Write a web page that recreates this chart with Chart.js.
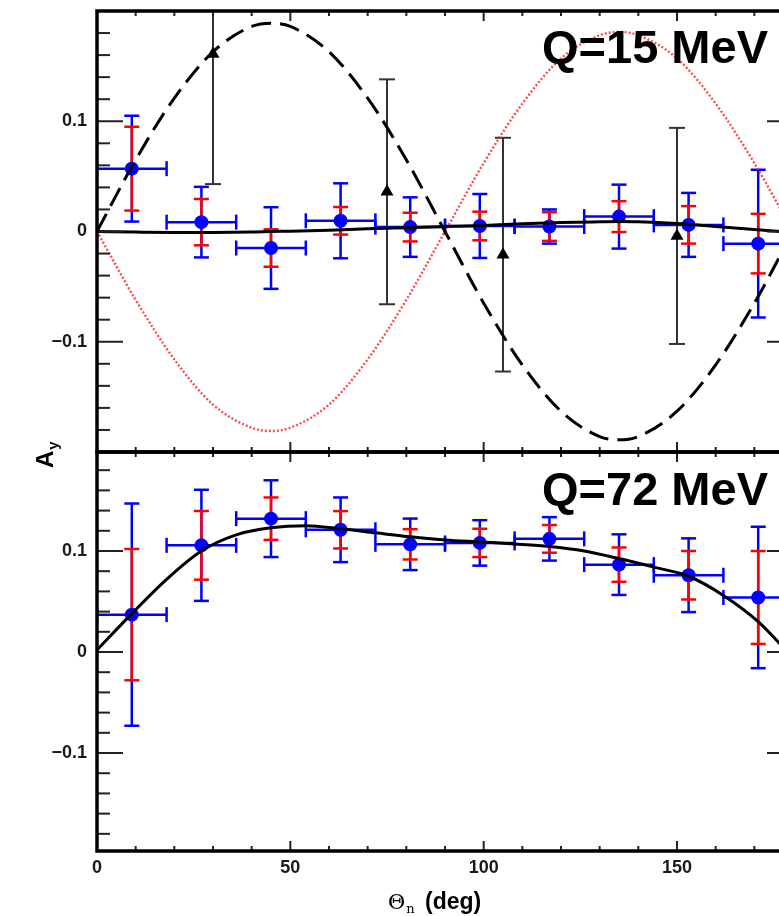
<!DOCTYPE html>
<html>
<head>
<meta charset="utf-8">
<title>Analyzing power A_y vs neutron angle</title>
<script src="https://cdn.jsdelivr.net/npm/chart.js@4.4.0/dist/chart.umd.min.js"></script>
<style>
  html, body { margin: 0; padding: 0; background: #fff; width: 779px; height: 916px; overflow: hidden; }
  canvas { position: absolute; left: 0; }
  #top-chart { top: 0; }
  #bottom-chart { top: 420px; }
</style>
</head>
<body>
<canvas id="bottom-chart" width="820" height="496"></canvas>
<canvas id="top-chart" width="820" height="460"></canvas>
<script>
// Angle bins (deg) and their half widths
const thetaBins = [9, 27, 45, 63, 81, 99, 117, 135, 153, 171];
const thetaHalfWidth = [9, 9, 9, 9, 9, 9, 9, 9, 9, 9];

// Q = 15 MeV data
const q15Ay    = [0.057, 0.0085, -0.015, 0.0097, 0.004, 0.005, 0.0045, 0.0135, 0.006, -0.011];
const q15Stat  = [0.038, 0.021, 0.017, 0.0125, 0.013, 0.013, 0.013, 0.014, 0.017, 0.027];
const q15Total = [0.048, 0.032, 0.037, 0.034, 0.027, 0.029, 0.0155, 0.029, 0.029, 0.067];

// Q = 15 MeV older measurement (triangles)
const q15OldTheta = [30, 75, 105, 150];
const q15OldAy    = [0.161, 0.036, -0.021, -0.004];
const q15OldErr   = [0.118, 0.102, 0.106, 0.098];

// Q = 15 MeV calculations
const q15CurveTheta = [0, 10, 20, 30, 40, 45, 50, 60, 70, 80, 90, 100, 110, 120, 130, 135, 140, 150, 160, 170, 180];
const q15Solid  = [0, -0.0005, -0.0008, -0.0008, -0.0005, 0, 0.0003, 0.0012, 0.0025, 0.0035, 0.0045, 0.0055, 0.007, 0.0082, 0.0088, 0.009, 0.0088, 0.0072, 0.0045, 0.0018, -0.001];
const q15Dashed = [0, 0.065, 0.121, 0.163, 0.186, 0.189, 0.186, 0.163, 0.121, 0.065, 0, -0.065, -0.121, -0.163, -0.186, -0.189, -0.186, -0.163, -0.121, -0.065, 0];
const q15Dotted = [0, -0.062, -0.116, -0.157, -0.178, -0.181, -0.178, -0.157, -0.116, -0.062, 0, 0.062, 0.116, 0.157, 0.178, 0.181, 0.178, 0.157, 0.116, 0.062, 0];

// Q = 72 MeV data
const q72Ay    = [0.037, 0.1056, 0.132, 0.121, 0.1066, 0.108, 0.112, 0.0865, 0.076, 0.054];
const q72Stat  = [0.065, 0.034, 0.021, 0.0185, 0.015, 0.014, 0.0137, 0.017, 0.024, 0.046];
const q72Total = [0.11, 0.055, 0.038, 0.032, 0.0255, 0.0225, 0.0215, 0.030, 0.0365, 0.070];

// Q = 72 MeV calculation
const q72CurveTheta = [0, 9, 18, 27, 36, 45, 54, 63, 72, 81, 90, 99, 108, 117, 126, 135, 144, 153, 162, 171, 180];
const q72Solid = [0.002, 0.038, 0.072, 0.100, 0.116, 0.123, 0.125, 0.122, 0.118, 0.114, 0.111, 0.109, 0.107, 0.1045, 0.100, 0.0925, 0.084, 0.075, 0.056, 0.030, -0.006];

// Tick labels
const yTickLabels = [-0.1, 0, 0.1];
const xTickLabels = [0, 50, 100, 150];

const BLUE = '#0000ff';
const RED = '#ff0000';

function pts(xs, ys) {
    return xs.map((x, i) => ({ x: x, y: ys[i] }));
}

function line(ctx, x1, y1, x2, y2) {
    ctx.beginPath();
    ctx.moveTo(x1, y1);
    ctx.lineTo(x2, y2);
    ctx.stroke();
}

// vertical (and optional horizontal) error bars through the chart scales
function drawErrorBars(chart, xs, ys, errs, xerrs, color, width, cap) {
    const ctx = chart.ctx;
    const sx = chart.scales.x, sy = chart.scales.y;
    const a = chart.chartArea;
    ctx.save();
    ctx.beginPath();
    ctx.rect(a.left, a.top, a.right - a.left, a.bottom - a.top);
    ctx.clip();
    ctx.strokeStyle = color;
    ctx.lineWidth = width;
    xs.forEach((x, i) => {
        const px = sx.getPixelForValue(x);
        const py = sy.getPixelForValue(ys[i]);
        const top = sy.getPixelForValue(ys[i] + errs[i]);
        const bot = sy.getPixelForValue(ys[i] - errs[i]);
        line(ctx, px, top, px, bot);
        line(ctx, px - cap, top, px + cap, top);
        line(ctx, px - cap, bot, px + cap, bot);
        if (xerrs) {
            const l = sx.getPixelForValue(x - xerrs[i]);
            const r = sx.getPixelForValue(x + xerrs[i]);
            line(ctx, l, py, r, py);
            line(ctx, l, py - cap, l, py + cap);
            line(ctx, r, py - cap, r, py + cap);
        }
    });
    ctx.restore();
}

// ROOT-style frame with inward ticks
const framePlugin = {
    id: 'frame',
    afterDatasetsDraw(chart) {
        const ctx = chart.ctx;
        const a = chart.chartArea;
        const sx = chart.scales.x, sy = chart.scales.y;
        ctx.save();
        ctx.strokeStyle = '#222';
        ctx.lineWidth = 2;
        for (let k = Math.ceil(sy.min / 0.02 - 1e-6); k * 0.02 <= sy.max + 1e-9; k++) {
            const py = sy.getPixelForValue(k * 0.02);
            const len = k % 5 === 0 ? 26 : 13;
            line(ctx, a.left, py, a.left + len, py);
            line(ctx, a.right, py, a.right - len, py);
        }
        for (let v = 10; v < 180; v += 10) {
            const px = sx.getPixelForValue(v);
            const len = v % 50 === 0 ? 10 : 5;
            line(ctx, px, a.top, px, a.top + len);
            line(ctx, px, a.bottom, px, a.bottom - len);
        }
        ctx.strokeStyle = '#000';
        ctx.lineWidth = 3.5;
        ctx.strokeRect(a.left, a.top, a.right - a.left, a.bottom - a.top);
        ctx.restore();
    }
};

function yAxis(min, max) {
    return {
        type: 'linear',
        min: min,
        max: max,
        afterFit: (scale) => {
            scale.width = 97;
            scale.paddingTop = 0;
            scale.paddingBottom = 0;
        },
        afterBuildTicks: (scale) => { scale.ticks = yTickLabels.map(v => ({ value: v })); },
        grid: { display: false, drawTicks: false },
        border: { display: false },
        ticks: {
            padding: 10,
            color: '#1a1a1a',
            font: { family: 'Liberation Sans', size: 18, weight: 'bold' },
            callback: (v) => v === 0 ? '0' : (v < 0 ? '\u2212' : '') + Math.abs(v).toFixed(1)
        }
    };
}

function curve(xs, ys, extra) {
    return Object.assign({
        type: 'line',
        data: pts(xs, ys),
        borderColor: '#000',
        borderWidth: 3,
        pointRadius: 0,
        fill: false,
        cubicInterpolationMode: 'monotone',
        order: 1
    }, extra);
}

function points(xs, ys) {
    return {
        type: 'scatter',
        data: pts(xs, ys),
        pointRadius: 7,
        pointBackgroundColor: BLUE,
        pointBorderWidth: 0,
        order: 3
    };
}

const baseOptions = {
    responsive: false,
    animation: false,
    events: [],
    plugins: { legend: { display: false }, tooltip: { enabled: false } }
};

// ---- top panel: Q = 15 MeV ----
new Chart(document.getElementById('top-chart'), {
    type: 'scatter',
    data: {
        datasets: [
            curve(q15CurveTheta, q15Solid),
            curve(q15CurveTheta, q15Dashed, { borderDash: [20, 9] }),
            curve(q15CurveTheta, q15Dotted, { borderColor: 'rgba(255,30,30,0.8)', borderWidth: 2.4, borderDash: [2, 2] }),
            points(thetaBins, q15Ay),
            {
                type: 'scatter',
                data: pts(q15OldTheta, q15OldAy),
                pointStyle: 'triangle',
                pointRadius: 7.5,
                pointBackgroundColor: '#000',
                pointBorderWidth: 0,
                order: 0
            }
        ]
    },
    options: Object.assign({}, baseOptions, {
        layout: { padding: { top: 11, right: 27, bottom: 8, left: 0 } },
        scales: {
            x: { type: 'linear', min: 0, max: 180, display: false },
            y: yAxis(-0.2, 0.2)
        }
    }),
    plugins: [framePlugin, {
        id: 'q15extras',
        beforeDatasetsDraw(chart) {
            drawErrorBars(chart, q15OldTheta, q15OldAy, q15OldErr, null, '#333', 2, 8);
            drawErrorBars(chart, thetaBins, q15Ay, q15Total, thetaHalfWidth, BLUE, 2.5, 7.5);
            drawErrorBars(chart, thetaBins, q15Ay, q15Stat, null, RED, 2.5, 7.5);
        },
        afterDraw(chart) {
            const ctx = chart.ctx;
            ctx.save();
            ctx.fillStyle = '#000';
            ctx.font = 'bold 47px "Liberation Sans"';
            ctx.textBaseline = 'alphabetic';
            ctx.fillText('Q=15 MeV', 542, 63);
            ctx.restore();
        }
    }]
});

// ---- bottom panel: Q = 72 MeV ----
new Chart(document.getElementById('bottom-chart'), {
    type: 'scatter',
    data: {
        datasets: [
            curve(q72CurveTheta, q72Solid),
            points(thetaBins, q72Ay)
        ]
    },
    options: Object.assign({}, baseOptions, {
        layout: { padding: { top: 32, right: 27, bottom: 0, left: 0 } },
        scales: {
            x: {
                type: 'linear',
                min: 0,
                max: 180,
                afterFit: (scale) => {
                    scale.height = 65;
                    scale.paddingLeft = 0;
                    scale.paddingRight = 0;
                },
                afterBuildTicks: (scale) => { scale.ticks = xTickLabels.map(v => ({ value: v })); },
                grid: { display: false, drawTicks: false },
                border: { display: false },
                ticks: {
                    padding: 6,
                    autoSkip: false,
                    maxRotation: 0,
                    color: '#1a1a1a',
                    font: { family: 'Liberation Sans', size: 18, weight: 'bold' }
                }
            },
            y: yAxis(-0.197, 0.198)
        }
    }),
    plugins: [framePlugin, {
        id: 'q72extras',
        beforeDatasetsDraw(chart) {
            drawErrorBars(chart, thetaBins, q72Ay, q72Total, thetaHalfWidth, BLUE, 2.5, 7.5);
            drawErrorBars(chart, thetaBins, q72Ay, q72Stat, null, RED, 2.5, 7.5);
        },
        afterDraw(chart) {
            const ctx = chart.ctx;
            ctx.save();
            ctx.fillStyle = '#000';
            ctx.textBaseline = 'alphabetic';
            ctx.font = 'bold 47px "Liberation Sans"';
            ctx.fillText('Q=72 MeV', 542, 85);

            // x axis title: Theta_n (deg)
            let x = 388;
            const by = 489;
            ctx.font = '21px "DejaVu Serif"';
            ctx.fillText('\u0398', x, by);
            x += ctx.measureText('\u0398').width + 1;
            ctx.font = '13px "DejaVu Serif"';
            ctx.fillText('n', x, by + 4);
            ctx.font = 'bold 23px "Liberation Sans"';
            ctx.fillText('(deg)', 425, by);

            // y axis title: A_y, rotated
            ctx.translate(53, 468 - 420);
            ctx.rotate(-Math.PI / 2);
            ctx.font = 'bold 24px "Liberation Sans"';
            ctx.fillText('A', 0, 0);
            const w = ctx.measureText('A').width;
            ctx.font = 'bold 15px "Liberation Sans"';
            ctx.fillText('y', w + 1, 5);
            ctx.restore();
        }
    }]
});
</script>
</body>
</html>
